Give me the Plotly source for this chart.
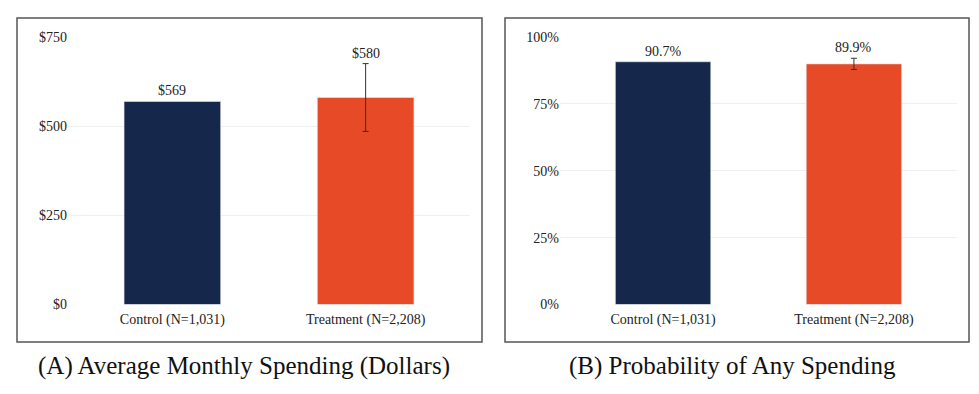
import plotly.graph_objects as go

W, H = 979, 394
OFF = 8  # page body margin compensation (page offsets the figure by 8px)

categories = ["Control (N=1,031)", "Treatment (N=2,208)"]
spend_values = [569, 580]
spend_errors = [0, 95]
spend_labels = ["$569", "$580"]
prob_values = [90.7, 89.9]
prob_errors = [0, 2.1]
prob_labels = ["90.7%", "89.9%"]
spend_ticks = [0, 250, 500, 750]
prob_ticks = [0, 25, 50, 75, 100]
captions = ["(A) Average Monthly Spending (Dollars)", "(B) Probability of Any Spending"]

colors = ["#15284B", "#E64A27"]
FONT = "Liberation Serif"

def px_x(p):
    return (p - OFF) / W

def px_y(p):
    return 1 - (p - OFF) / H

fig = go.Figure()

panels = [
    ("x", "y", spend_values, spend_errors, spend_labels),
    ("x2", "y2", prob_values, prob_errors, prob_labels),
]

for xa, ya, vals, errs, labels in panels:
    for i, cat in enumerate(categories):
        kw = {}
        if errs[i] > 0:
            kw["error_y"] = dict(type="data", array=[errs[i]], visible=True,
                                 color="#333333", thickness=1, width=3)
        fig.add_trace(go.Bar(
            x=[cat], y=[vals[i]], xaxis=xa, yaxis=ya, width=0.5,
            marker=dict(color=colors[i], line=dict(color="#E8E8EE", width=0.6)),
            showlegend=False, **kw))
        fig.add_annotation(x=cat, y=vals[i] + errs[i], xref=xa, yref=ya,
                           text=labels[i], showarrow=False, yanchor="bottom",
                           yshift=1, font=dict(family=FONT, size=14, color="#222"))

common_x = dict(showgrid=False, zeroline=False, showline=False, ticks="",
                tickfont=dict(family=FONT, size=14, color="#222"),
                ticklabelstandoff=4,
                range=[-0.54, 1.54], fixedrange=True)
common_y = dict(showgrid=True, gridcolor="#F0F0F0", gridwidth=1, zeroline=False,
                showline=False, ticks="", tickfont=dict(family=FONT, size=14, color="#222"),
                domain=[px_y(309), px_y(30.7)], fixedrange=True)

fig.update_layout(
    width=W, height=H, margin=dict(l=0, r=0, t=0, b=0),
    paper_bgcolor="white", plot_bgcolor="white", bargap=0.5,
    xaxis=dict(domain=[px_x(68), px_x(470)], anchor="y", **common_x),
    xaxis2=dict(domain=[px_x(560), px_x(957)], anchor="y2", **common_x),
    yaxis=dict(anchor="x", range=[0, 750], tickvals=spend_ticks,
               ticktext=["$" + str(t) for t in spend_ticks], **common_y),
    yaxis2=dict(anchor="x2", range=[0, 100], tickvals=prob_ticks,
                ticktext=[str(t) + "%" for t in prob_ticks], **common_y),
)

frames = [(17, 482), (505, 969)]
for x0, x1 in frames:
    fig.add_shape(type="rect", xref="paper", yref="paper",
                  x0=px_x(x0), x1=px_x(x1), y0=px_y(348), y1=px_y(11),
                  line=dict(color="#555555", width=1.5))

cap_centers = [243.5, 732]
for c, txt in zip(cap_centers, captions):
    fig.add_annotation(x=px_x(c), y=px_y(373), xref="paper", yref="paper",
                       text=txt, showarrow=False, xanchor="center", yanchor="middle",
                       font=dict(family=FONT, size=25, color="#111"))

fig.write_html("out.html")
